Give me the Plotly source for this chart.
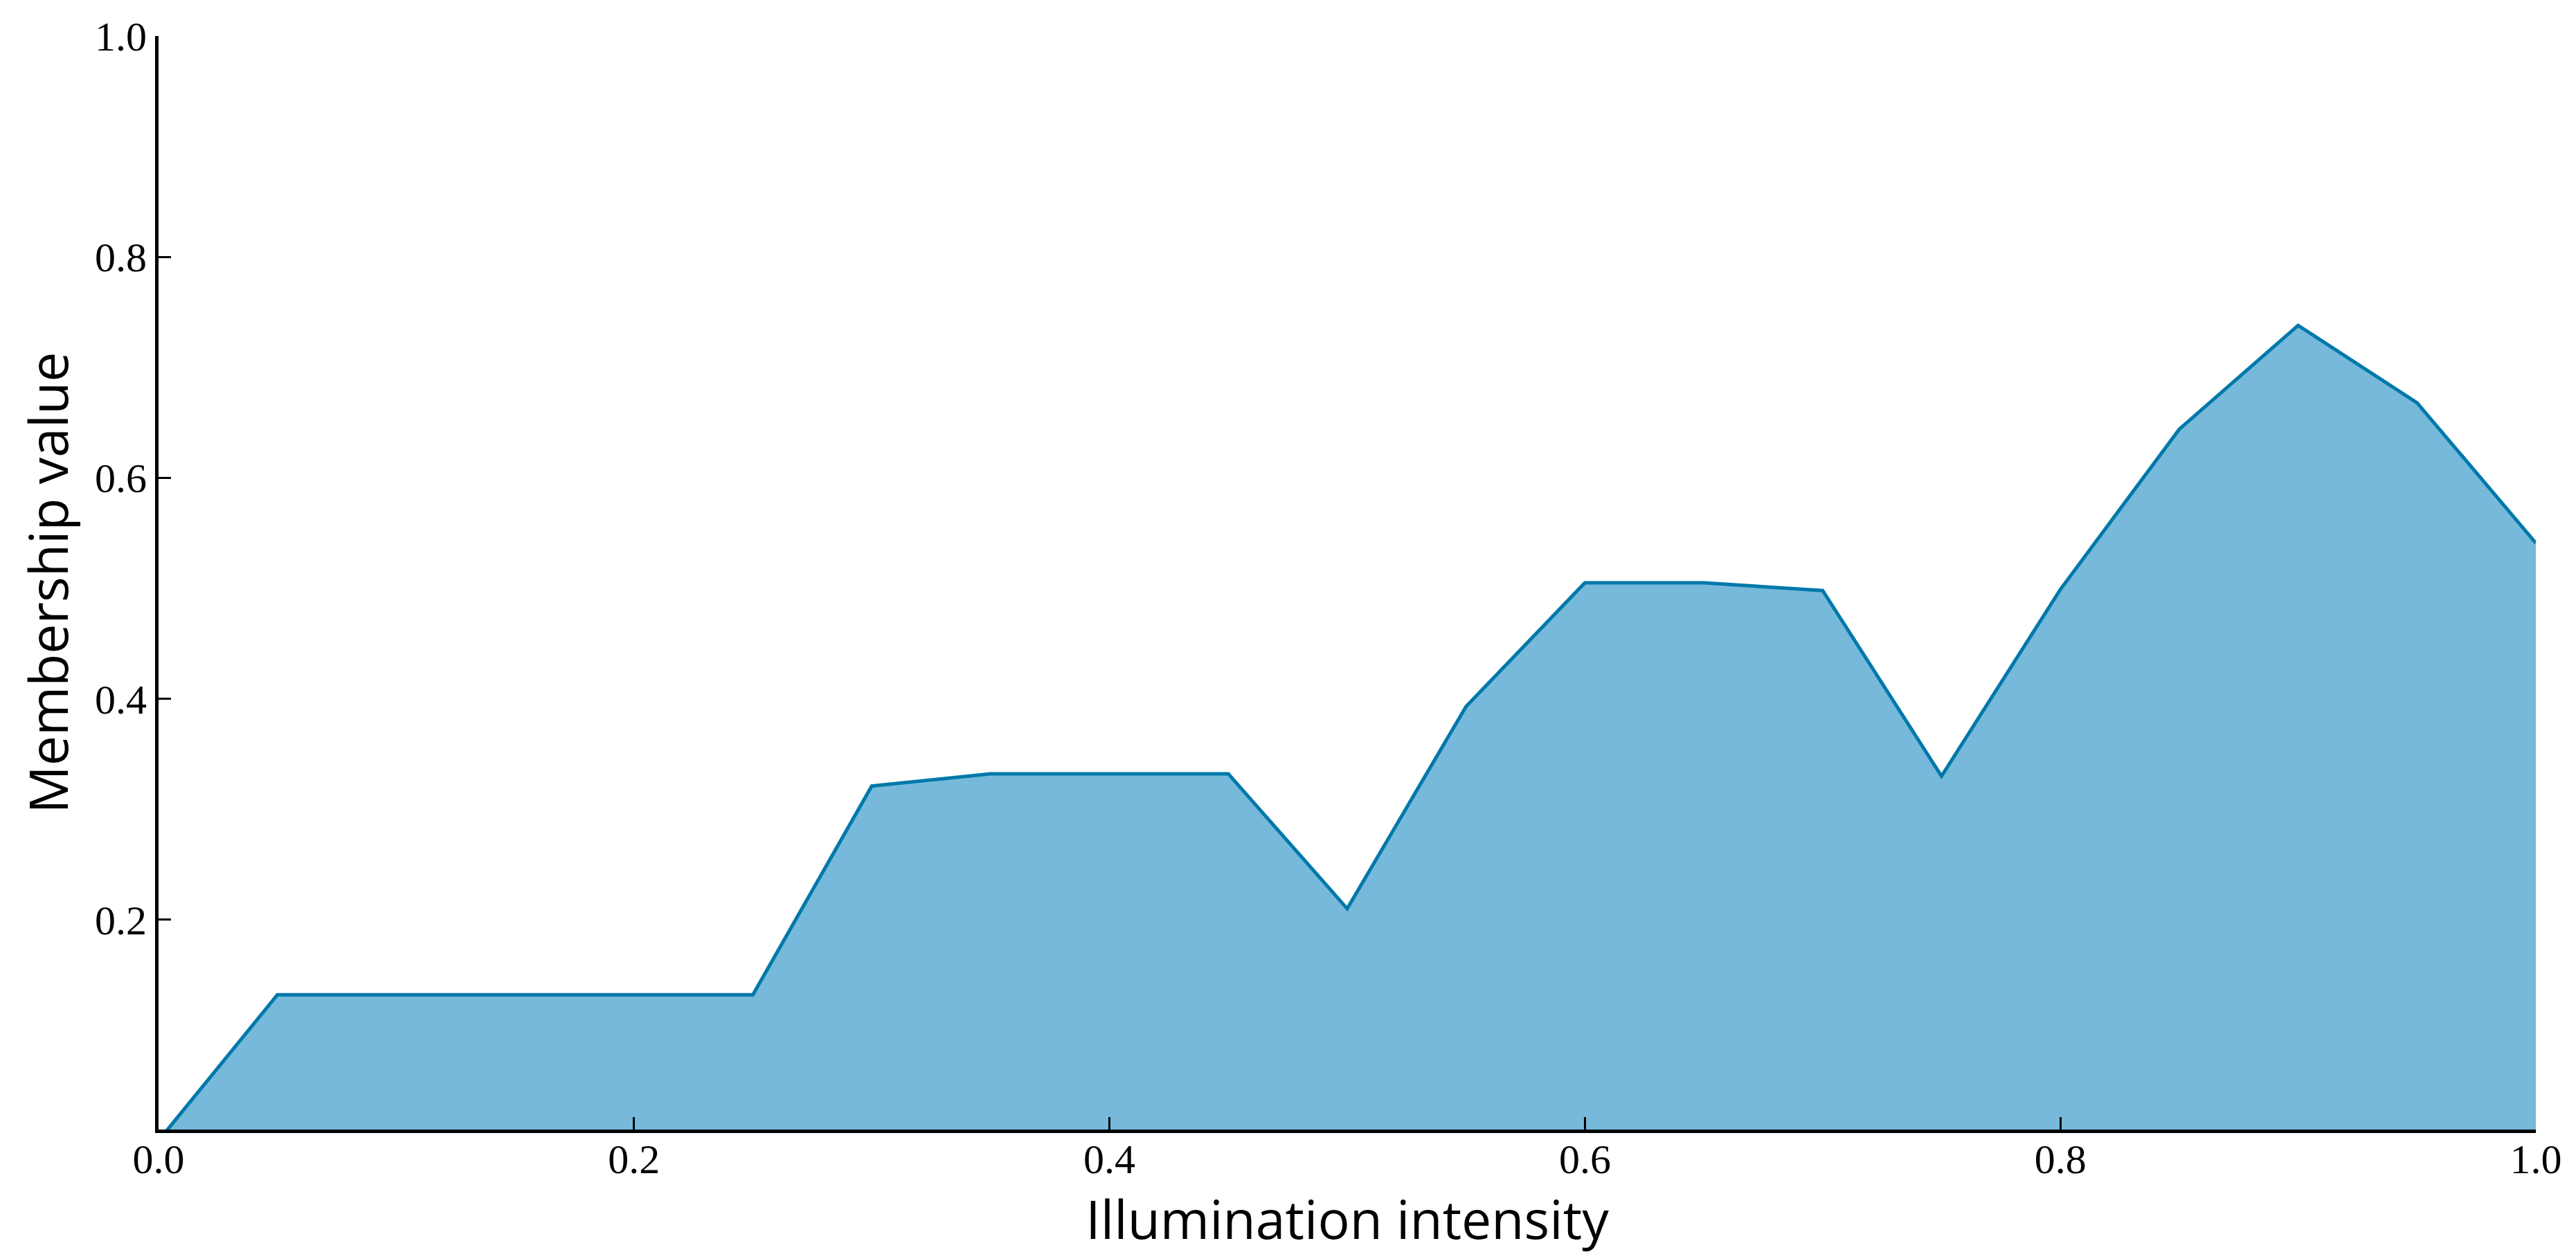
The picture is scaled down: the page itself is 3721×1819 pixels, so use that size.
import plotly.graph_objects as go

# illumination intensity steps and the fuzzy membership
intensity = [0.0, 0.05, 0.1, 0.15, 0.2, 0.25, 0.3, 0.35, 0.4, 0.45, 0.5,
             0.55, 0.6, 0.65, 0.7, 0.75, 0.8, 0.85, 0.9, 0.95, 1.0]
membership = [0.0, 0.132, 0.132, 0.132, 0.132, 0.132, 0.321, 0.332, 0.332, 0.332, 0.210,
              0.393, 0.505, 0.505, 0.498, 0.330, 0.499, 0.644, 0.738, 0.668, 0.541]

x_ticks = [0.0, 0.2, 0.4, 0.6, 0.8, 1.0]
y_ticks = [0.2, 0.4, 0.6, 0.8, 1.0]

fig = go.Figure()
fig.add_trace(go.Scatter(
    x=intensity, y=membership, mode="lines", fill="tozeroy",
    fillcolor="rgb(118,185,218)", line=dict(color="rgb(0,120,170)", width=5),
    showlegend=False, hoverinfo="skip"))

tick_font = dict(family="Liberation Serif", size=60, color="black")
title_font = dict(family="Open Sans", size=77, color="black")

fig.update_xaxes(range=[0, 1], tickvals=x_ticks, tickformat=".1f",
                 ticks="inside", ticklen=18, tickwidth=3, tickcolor="black",
                 showline=True, linecolor="black", linewidth=5, showgrid=False,
                 zeroline=False, tickfont=tick_font, ticklabelstandoff=-14,
                 title=dict(text="Illumination intensity", font=title_font, standoff=31))
fig.update_yaxes(range=[0.01, 1.0], tickvals=y_ticks, tickformat=".1f",
                 ticks="inside", ticklen=18, tickwidth=3, tickcolor="black",
                 showline=True, linecolor="black", linewidth=5, showgrid=False,
                 zeroline=False, tickfont=tick_font, ticklabelstandoff=0,
                 title=dict(text="Membership value", font=title_font, standoff=15))

# page body adds an 8 px offset, so margins are shifted to keep the plot area in place
fig.update_layout(width=3721, height=1819, plot_bgcolor="white", paper_bgcolor="white",
                  margin=dict(l=221, r=66, t=40, b=195))
fig.write_html("out.html")
